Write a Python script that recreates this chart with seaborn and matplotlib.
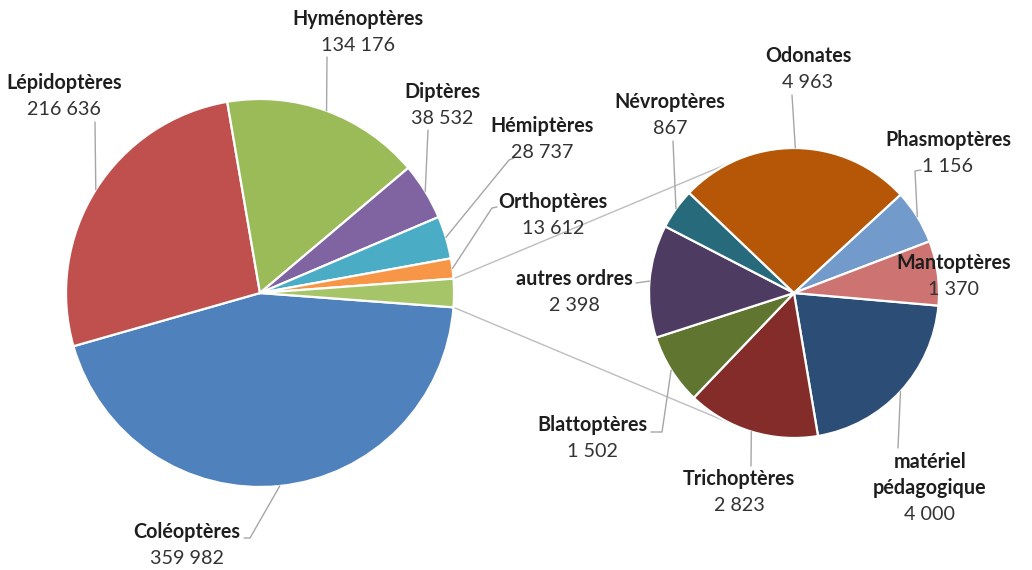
import matplotlib
matplotlib.use("Agg")
import matplotlib.pyplot as plt
import seaborn as sns

# Insect collection by order: main pie + detail pie for the small orders
main_labels = ["Coléoptères", "Lépidoptères", "Hyménoptères", "Diptères",
               "Hémiptères", "Orthoptères"]
main_values = [359982, 216636, 134176, 38532, 28737, 13612]

detail_labels = ["matériel\npédagogique", "Trichoptères", "Blattoptères",
                 "autres ordres", "Névroptères", "Odonates", "Phasmoptères",
                 "Mantoptères"]
detail_values = [4000, 2823, 1502, 2398, 867, 4963, 1156, 1370]

main_colors = ["#4F81BD", "#C0504D", "#9BBB59", "#8064A2", "#4BACC6", "#F79646"]
other_color = "#A6C468"
detail_colors = ["#2C4D75", "#832C29", "#5F7530", "#4D3B62", "#276A7C",
                 "#B65708", "#729ACA", "#CD7371"]

sns.set_theme(style="white")
plt.rcParams["font.family"] = ["Lato", "DejaVu Sans"]

W, H = 1032, 570
fig = plt.figure(figsize=(W / 100, H / 100), dpi=100)
ax = fig.add_axes([0, 0, 1, 1])


def Y(y):
    """Pixel row (top-down) to axis y (bottom-up)."""
    return H - y


MAIN_C, MAIN_R = (260, Y(293)), 194
DET_C, DET_R = (794, Y(293)), 145

other_value = sum(detail_values)
main_all = main_values + [other_value]
other_frac = other_value / sum(main_all)
start_main = -other_frac * 360 / 2

wedge_kw = dict(edgecolor="white", linewidth=1.6)
main_wedges, _ = ax.pie(main_all, colors=main_colors + [other_color],
                        startangle=start_main, counterclock=False,
                        center=MAIN_C, radius=MAIN_R, wedgeprops=wedge_kw,
                        frame=True)
det_wedges, _ = ax.pie(detail_values, colors=detail_colors, startangle=-5,
                       counterclock=False, center=DET_C, radius=DET_R,
                       wedgeprops=wedge_kw, frame=True)

import numpy as np


def edge_point(center, r, ang):
    a = np.deg2rad(ang)
    return center[0] + r * np.cos(a), center[1] + r * np.sin(a)


# connector lines between the "other" slice and the detail pie
ow = main_wedges[-1]
p_top = edge_point(MAIN_C, MAIN_R, ow.theta2)
p_bot = edge_point(MAIN_C, MAIN_R, ow.theta1)
q_top = edge_point(DET_C, DET_R, 116)
q_bot = edge_point(DET_C, DET_R, -116)
for p, q in [(p_top, q_top), (p_bot, q_bot)]:
    ax.plot([p[0], q[0]], [p[1], q[1]], color="#BDBDBD", lw=1.0, zorder=0.5)


def mid_anchor(w):
    mid = (w.theta1 + w.theta2) / 2
    return edge_point(w.center, w.r, mid)


# label layout: (x centre, y of first line, leader start points)
main_layout = {
    "Coléoptères": (187, 532, [(244, 538), (250, 538)]),
    "Lépidoptères": (64, 83, [(95, 122)]),
    "Hyménoptères": (358, 19, [(327, 57)]),
    "Diptères": (442, 92, [(428, 130)]),
    "Hémiptères": (542, 126, [(514, 158), (509, 160)]),
    "Orthoptères": (553, 202, [(497, 207), (492, 208)]),
}
det_layout = {
    "matériel\npédagogique": (930, 462, [(898, 448)]),
    "Trichoptères": (739, 479, [(751, 466)]),
    "Blattoptères": (592, 425, [(651, 432), (662, 432)]),
    "autres ordres": (574, 279, [(636, 283)]),
    "Névroptères": (670, 102, [(673, 141)]),
    "Odonates": (808, 56, [(792, 95)]),
    "Phasmoptères": (948, 140, [(921, 170), (915, 171)]),
    "Mantoptères": (954, 263, []),
}

LINE = 26.5
FS = 14.2
name_color = "#1E1E1E"
num_color = "#333333"
lead_color = "#A6A6A6"


def fmt(v):
    return f"{v:,}".replace(",", " ")


def draw_label(name, value, wedge, layout):
    x, y0, lead = layout
    lines = name.split("\n")
    for i, ln in enumerate(lines):
        ax.text(x, Y(y0 + i * LINE), ln, ha="center", va="center",
                fontsize=FS, fontweight="bold", color=name_color, zorder=5)
    ax.text(x, Y(y0 + len(lines) * LINE), fmt(value), ha="center",
            va="center", fontsize=FS, color=num_color, zorder=5)
    if lead:
        ax_pt = mid_anchor(wedge)
        xs = [p[0] for p in lead] + [ax_pt[0]]
        ys = [Y(p[1]) for p in lead] + [ax_pt[1]]
        ax.plot(xs, ys, color=lead_color, lw=1.0, zorder=4)


for lab, val, w in zip(main_labels, main_values, main_wedges):
    draw_label(lab, val, w, main_layout[lab])
for lab, val, w in zip(detail_labels, detail_values, det_wedges):
    draw_label(lab, val, w, det_layout[lab])

ax.set_xlim(0, W)
ax.set_ylim(0, H)
ax.set_aspect("equal")
ax.axis("off")
fig.savefig("out.png", dpi=100, facecolor="white")
